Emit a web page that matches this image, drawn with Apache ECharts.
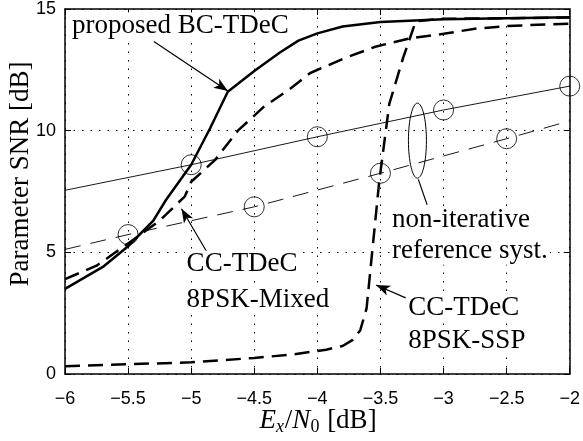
<!DOCTYPE html>
<html>
<head>
<meta charset="utf-8">
<script src="https://cdn.jsdelivr.net/npm/echarts@6/dist/echarts.min.js"></script>
<style>
html,body{margin:0;padding:0;background:#fff;}
#c{width:583px;height:441px;}
</style>
</head>
<body>
<div id="c"></div>
<script>
// ---- data ----
var xTicks = [-6, -5.5, -5, -4.5, -4, -3.5, -3, -2.5, -2];
var yTicks = [0, 5, 10, 15];

var bcX = [-6, -5.85, -5.7, -5.5, -5.3, -5.2, -5.0, -4.85, -4.71, -4.5, -4.3, -4.15, -4.0, -3.8, -3.5, -3.0, -2.5, -2.0];
var bcY = [3.5, 3.95, 4.4, 5.25, 6.3, 7.15, 8.6, 10.1, 11.6, 12.45, 13.2, 13.7, 14.0, 14.28, 14.47, 14.58, 14.62, 14.66];

var mixX = [-6, -5.75, -5.45, -5.25, -5.12, -5.05, -5.0, -4.81, -4.63, -4.42, -4.22, -4.06, -3.79, -3.54, -3.28, -3.0, -2.75, -2.5, -2.0];
var mixY = [3.9, 4.45, 5.55, 6.3, 6.95, 7.3, 7.9, 8.8, 10.0, 11.0, 11.7, 12.36, 12.97, 13.45, 13.78, 13.98, 14.19, 14.3, 14.4];

var sspX = [-6, -5.5, -5.0, -4.5, -4.2, -3.93, -3.8, -3.72, -3.66, -3.61, -3.56, -3.51, -3.43, -3.32, -3.22, -3.0, -2.5, -2.0];
var sspY = [0.32, 0.4, 0.48, 0.66, 0.8, 1.0, 1.15, 1.4, 1.8, 2.7, 5.3, 7.9, 11.1, 13.0, 14.5, 14.6, 14.62, 14.65];

var refSolidX = [-6, -5, -4, -3, -2];
var refSolidY = [7.55, 8.6, 9.75, 10.85, 11.83];
var refSolidMarkX = [-5, -4, -3, -2];
var refSolidMarkY = [8.6, 9.75, 10.85, 11.83];

var refDashX = [-6, -5.5, -4.5, -3.5, -2.5, -2];
var refDashY = [5.12, 5.73, 6.87, 8.25, 9.67, 10.4];
var refDashMarkX = [-5.5, -4.5, -3.5, -2.5];
var refDashMarkY = [5.73, 6.87, 8.25, 9.67];

// annotation labels
var labelBC = 'proposed BC-TDeC';
var labelMix = ['CC-TDeC', '8PSK-Mixed'];
var labelRef = ['non-iterative', 'reference syst.'];
var labelSSP = ['CC-TDeC', '8PSK-SSP'];
var yName = 'Parameter SNR [dB]';

function zip(xs, ys){ return xs.map(function(x,i){ return [x, ys[i]]; }); }

var chart = echarts.init(document.getElementById('c'));
var SERIF = '"Liberation Serif","DejaVu Serif",serif';
var SANS = '"Liberation Sans",Arial,sans-serif';

function fmt(v){ return String(v).replace('-', '\u2212'); }

var axisCommon = {
  axisLine:{show:true, onZero:false, lineStyle:{color:'#000', width:1.5}},
  axisTick:{show:true, inside:true, length:6, lineStyle:{color:'#000', width:1}},
};

var arrowStyle = {color:'#000', width:1.2, type:'solid'};
function arrowLine(x1,y1,x2,y2,head){
  return [{coord:[x1,y1], symbol:'none'}, {coord:[x2,y2], symbol: head ? 'arrow' : 'none', symbolSize:[8,14]}];
}

var option = {
  animation:false,
  backgroundColor:'#fff',
  grid:{left:65, right:7, top:5, bottom:67},
  xAxis:[
    Object.assign({type:'value', min:-6, max:-2, interval:0.5, position:'bottom',
      axisLabel:{color:'#000', fontFamily:SANS, fontSize:18, margin:16, formatter:fmt},
      splitLine:{show:true, lineStyle:{color:'#000', type:[1.5,7], width:1}}}, axisCommon),
    Object.assign({type:'value', min:-6, max:-2, interval:0.5, position:'top',
      axisLabel:{show:false}, splitLine:{show:false}}, axisCommon)
  ],
  yAxis:[
    Object.assign({type:'value', min:0, max:15, interval:5, position:'left',
      axisLabel:{color:'#000', fontFamily:SANS, fontSize:18, margin:9, formatter:fmt},
      splitLine:{show:true, lineStyle:{color:'#000', type:[1.5,7], width:1}}}, axisCommon),
    Object.assign({type:'value', min:0, max:15, interval:5, position:'right',
      axisLabel:{show:false}, splitLine:{show:false}}, axisCommon)
  ],
  series:[
    {type:'line', name:'refSolid', data:zip(refSolidX, refSolidY), symbol:'none',
      lineStyle:{color:'#000', width:0.9}},
    {type:'line', name:'refDash', data:zip(refDashX, refDashY), symbol:'none',
      lineStyle:{color:'#000', width:0.9, type:[16,10]}},
    {type:'scatter', data:zip(refSolidMarkX, refSolidMarkY), symbol:'circle', symbolSize:20,
      itemStyle:{color:'rgba(0,0,0,0)', borderColor:'#000', borderWidth:1}},
    {type:'scatter', data:zip(refDashMarkX, refDashMarkY), symbol:'circle', symbolSize:20,
      itemStyle:{color:'rgba(0,0,0,0)', borderColor:'#000', borderWidth:1}},
    {type:'line', name:'ssp', data:zip(sspX, sspY), symbol:'none',
      lineStyle:{color:'#000', width:2.5, type:[15,8]}},
    {type:'line', name:'mix', data:zip(mixX, mixY), symbol:'none',
      lineStyle:{color:'#000', width:2.5, type:[15,8]}},
    {type:'line', name:'bc', data:zip(bcX, bcY), symbol:'none',
      lineStyle:{color:'#000', width:2.5},
      markLine:{silent:true, animation:false, label:{show:false}, lineStyle:arrowStyle,
        data:[
          arrowLine(-5.296, 13.66, -4.709, 11.63, true),
          arrowLine(-4.865, 4.92, -5.077, 6.79, true),
          arrowLine(-3.30, 3.13, -3.535, 3.66, true),
          arrowLine(-3.20, 8.0, -3.13, 6.95, false)
        ]}}
  ]
};
chart.setOption(option);

function px(x,y){ return chart.convertToPixel({gridIndex:0}, [x,y]); }
function txt(str, x, y, bg){
  var p = px(x,y);
  return {type:'text', x:p[0], y:p[1], z:100,
    style:{text:str, fill:'#000', font:'27px ' + SERIF, textAlign:'left', textVerticalAlign:'middle',
      backgroundColor: bg ? '#fff' : null, padding: bg ? [0,2,0,2] : 0}};
}
var ec = px(-3.207, 9.59);
var graphics = [
  txt(labelBC, -5.96, 14.31, true),
  txt(labelMix[0], -5.052, 4.51, true),
  txt(labelMix[1], -5.052, 3.05, true),
  txt(labelRef[0], -3.425, 6.34, true),
  txt(labelRef[1], -3.425, 5.04, true),
  txt(labelSSP[0], -3.295, 2.72, true),
  txt(labelSSP[1], -3.295, 1.38, true),
  {type:'ellipse', z:50, shape:{cx:ec[0], cy:ec[1], rx:9, ry:37.5},
    style:{fill:null, stroke:'#000', lineWidth:1}},
  {type:'text', x:21, y:174, rotation:Math.PI/2, z:100,
    style:{text:yName, fill:'#000', font:'27px ' + SERIF, textAlign:'center', textVerticalAlign:'middle'}},
  {type:'text', x:318, y:421, z:100,
    style:{text:'{i|E}{s|x}{n|/}{i|N}{s0|0}{n| [dB]}', textAlign:'center', textVerticalAlign:'middle',
      rich:{
        i:{fontFamily:SERIF, fontSize:27, fontStyle:'italic', fill:'#000'},
        n:{fontFamily:SERIF, fontSize:27, fill:'#000'},
        s:{fontFamily:SERIF, fontSize:18, fontStyle:'italic', fill:'#000', padding:[12,1,0,0]},
        s0:{fontFamily:SERIF, fontSize:18, fill:'#000', padding:[12,1,0,0]}
      }}}
];
chart.setOption({graphic:graphics});
</script>
</body>
</html>
